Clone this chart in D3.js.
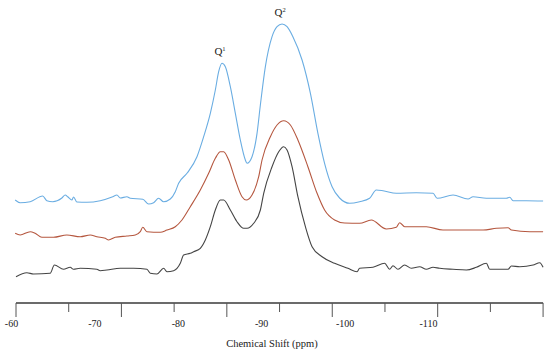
<!DOCTYPE html>
<html>
<head>
<meta charset="utf-8">
<script src="https://cdn.jsdelivr.net/npm/d3@7"></script>
<style>
  body { margin: 0; background: #fff; }
  text { font-family: "Liberation Serif", "DejaVu Serif", serif; fill: #222; }
</style>
</head>
<body>
<div id="chart"></div>
<script>

// spectra: [ppm, intensity above own baseline]
let blueTrace = [
  [-60.5, 3], [-61.1, 0.3], [-62.3, 1.3], [-63.8, 7], [-64.3, 2.3], [-65.0, 1.3],
  [-66.1, 5], [-66.5, 8], [-66.8, 6.3], [-67.3, 3], [-67.5, 6], [-67.9, 1],
  [-69.1, 0.7], [-70.7, 2.3], [-72.2, 6.3], [-72.7, 8], [-73.1, 5], [-73.9, 6.3],
  [-74.3, 4.7], [-75.8, 3.7], [-76.5, -1], [-77.1, 0.3], [-77.7, 4.7], [-78.3, 1.3],
  [-79.1, 4], [-79.7, 11.3], [-80.1, 19.7], [-81.1, 29.7], [-82.3, 46.3], [-83.1, 66.3],
  [-83.9, 89.7], [-84.5, 113], [-84.9, 131.3], [-85.3, 139.7], [-85.7, 136.3],
  [-86.3, 116.3], [-86.9, 89.7], [-87.5, 63], [-88.1, 43], [-88.3, 39.7], [-88.9, 46.3],
  [-89.5, 69.7], [-89.9, 98], [-90.5, 136.3], [-91.3, 166.3], [-91.9, 176.3],
  [-92.5, 179], [-93.1, 176.3], [-93.8, 166.3], [-94.9, 143], [-95.9, 109.7],
  [-96.8, 69.7], [-97.6, 39.7], [-98.5, 16.3], [-99.4, 5], [-100.6, -0.3],
  [-101.8, 1.3], [-103.0, 4.7], [-103.8, 13], [-104.6, 12.3], [-106.2, 9.7],
  [-108.6, 10.3], [-110.6, 9.7], [-111.1, 4.7], [-113.0, 8], [-114.8, 4],
  [-115.4, 6.3], [-117.0, 4.7], [-119.4, 4.7], [-119.8, 5.7], [-120.2, 2.3],
  [-121.8, 2.3], [-123.8, 2]
];

let redTrace = [
  [-60.5, -0.3], [-61.1, -2], [-62.3, 1.3], [-62.9, -0.3], [-63.7, -4.3], [-65.1, -4.3],
  [-66.7, -2], [-68.3, -3.7], [-69.5, -2], [-70.3, -3.7], [-71.3, -5.3], [-71.7, -7],
  [-72.5, -4.3], [-73.9, -3], [-74.9, -2], [-75.5, 1.3], [-75.8, 5.7], [-76.3, 1.3],
  [-77.9, 0.7], [-78.7, 3], [-79.7, 6.3], [-80.5, 13], [-81.5, 26.3], [-82.7, 43],
  [-83.7, 59.7], [-84.5, 74.7], [-85.1, 81.3], [-85.5, 81.3], [-86.1, 73], [-86.9, 53],
  [-87.7, 36.3], [-88.2, 33], [-88.9, 38], [-89.7, 56.3], [-90.1, 73], [-91.1, 96.3],
  [-91.9, 108], [-92.7, 112.3], [-93.5, 108], [-94.4, 93], [-95.6, 66.3], [-96.7, 39.7],
  [-97.6, 23], [-98.8, 13], [-100.0, 10], [-101.8, 9.7], [-103.2, 13], [-105.0, 4],
  [-106.2, 5.7], [-106.6, 10.3], [-107.2, 6.3], [-109.8, 6.3], [-111.8, 3],
  [-113.8, 3], [-116.6, 3], [-118.2, 4.7], [-119.6, 5.3], [-120.0, 3], [-122.2, 1.3],
  [-123.8, 1.3]
];

let blackTrace = [
  [-60.6, -3.7], [-61.9, 0.3], [-62.7, -1], [-64.7, -0.3], [-65.2, 8], [-66.3, 3.7],
  [-67.1, 5.7], [-67.5, 3.7], [-68.3, 4.7], [-70.3, 3.7], [-70.7, 2.3], [-71.5, 3],
  [-73.1, 4.7], [-74.7, 4.7], [-76.3, 3.7], [-76.7, -0.3], [-77.5, -1], [-78.3, 4.7],
  [-78.7, 1.3], [-79.5, 2.3], [-80.3, 9.7], [-80.7, 18], [-81.5, 19.7], [-81.9, 21.3],
  [-82.7, 24.7], [-83.3, 33], [-83.9, 46.3], [-84.5, 63], [-85.1, 73], [-85.5, 73],
  [-86.3, 63], [-87.1, 51.3], [-87.9, 44.7], [-88.3, 44.7], [-89.1, 49.7], [-89.9, 63],
  [-90.3, 79.7], [-91.3, 106.3], [-92.1, 121.3], [-92.7, 126.3], [-93.1, 123],
  [-93.7, 106.3], [-94.4, 76.3], [-95.3, 46.3], [-96.1, 26.3], [-97.3, 16.3],
  [-98.8, 9.7], [-100.4, 4.7], [-101.5, 1.3], [-101.8, 4.7], [-103.4, 5.7],
  [-104.8, 9.7], [-105.4, 3.7], [-105.8, 7.3], [-106.4, 3.7], [-107.2, 8],
  [-108.0, 4.7], [-109.0, 6.3], [-109.8, 3.7], [-110.6, 5.7], [-111.4, 4.7],
  [-113.0, 3.7], [-114.6, 3], [-115.8, 5.7], [-117.0, 9.7], [-117.4, 3.7],
  [-119.6, 3.7], [-120.0, 7], [-121.0, 6.3], [-122.6, 8], [-123.4, 10.3], [-123.8, 5.7]
];

// stacking offsets (same intensity units)
let traceOffsets = [100, 70, 30];
let traceColors = ["#6aade2", "#b5573f", "#454545"];

let xTickLabels = [-60, -70, -80, -90, -100, -110];
let peakLabels = [
  { name: "Q", sup: "1", ppm: -85.3, value: 139.7, series: 0 },
  { name: "Q", sup: "2", ppm: -92.5, value: 179, series: 0 }
];

let width = 550;
let height = 359;

let svg = d3.select("#chart")
.append("svg")
.attr("width", width)
.attr("height", height);

let x = d3.scaleLinear().domain([-60, -110]).range([11, 428]);
let y = d3.scaleLinear().domain([0, 300]).range([303, 3]);

let line = d3.line()
.x(function(d) { return x(d[0]); })
.y(function(d) { return y(d[1]); })
.curve(d3.curveMonotoneX);

let traces = [blueTrace, redTrace, blackTrace];

traces.forEach(function(trace, i) {
  let shifted = trace.map(function(d) { return [d[0], d[1] + traceOffsets[i]]; });
  svg.append("path")
  .datum(shifted)
  .attr("fill", "none")
  .attr("stroke", traceColors[i])
  .attr("stroke-width", 1.1)
  .attr("stroke-linejoin", "round")
  .attr("d", line);
});

// peak labels
peakLabels.forEach(function(p) {
  let t = svg.append("text")
  .attr("x", x(p.ppm) - 2)
  .attr("y", y(p.value + traceOffsets[p.series]) - 8)
  .attr("text-anchor", "middle")
  .style("font-size", "11px");
  t.append("tspan").text(p.name);
  t.append("tspan")
  .attr("dy", -4)
  .style("font-size", "6.5px")
  .text(p.sup);
});

// axis line and tick marks (the tick marks do not line up with the labels)
let axisY = y(0);
let tickScale = d3.scaleLinear().domain([0, 10]).range([x(-60.6), x(-123.8)]);

svg.append("line")
.attr("x1", tickScale(0))
.attr("x2", tickScale(10))
.attr("y1", axisY)
.attr("y2", axisY)
.attr("stroke", "#3a3a3a")
.attr("stroke-width", 1.6);

svg.selectAll(".tickmark")
.data(d3.range(11))
.enter()
.append("line")
.attr("class", "tickmark")
.attr("x1", function(d) { return tickScale(d); })
.attr("x2", function(d) { return tickScale(d); })
.attr("y1", axisY)
.attr("y2", function(d) { return axisY + (d % 2 == 0 ? 14 : 9); })
.attr("stroke", "#555")
.attr("stroke-width", 1);

let xAxis = d3.axisBottom(x)
.tickValues(xTickLabels)
.tickSize(0)
.tickPadding(17)
.tickFormat(function(d) { return String(d); });

let gx = svg.append("g")
.attr("transform", "translate(0," + axisY + ")")
.call(xAxis);
gx.select(".domain").remove();
gx.selectAll("text")
.style("font-family", "'Liberation Serif', 'DejaVu Serif', serif")
.style("font-size", "10px")
.attr("fill", "#333");

svg.append("text")
.attr("x", 272)
.attr("y", 347)
.attr("text-anchor", "middle")
.style("font-size", "10.5px")
.text("Chemical Shift (ppm)");

</script>
</body>
</html>
